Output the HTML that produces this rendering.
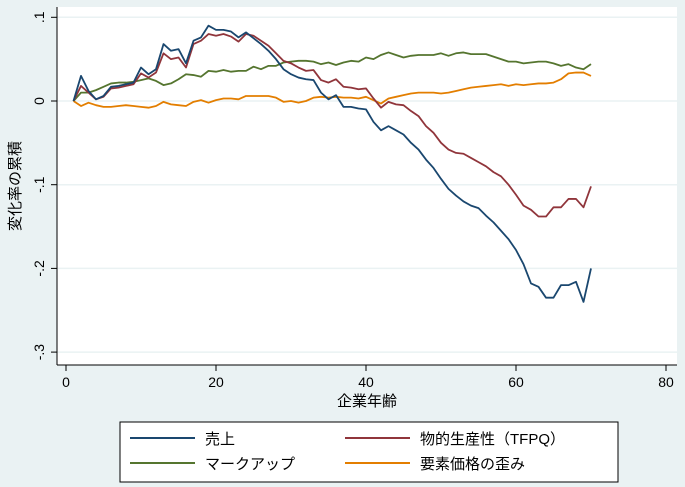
<!DOCTYPE html>
<html><head><meta charset="utf-8"><style>
body{margin:0;background:#eaf2f3;}
svg{display:block;font-family:"Liberation Sans","Noto Sans CJK JP",sans-serif;}
</style></head><body>
<svg width="685" height="487">
<rect x="0" y="0" width="685" height="487" fill="#eaf2f3"/>
<rect x="57" y="7" width="620" height="358" fill="#fff"/>
<g id="grid"></g><g id="axes"></g><g id="series"></g>
<text x="367" y="406" font-size="15" text-anchor="middle">企業年齢</text>
<text transform="translate(20,186) rotate(-90)" font-size="15" text-anchor="middle">変化率の累積</text>
<g>
<rect x="120" y="422" width="498" height="60" fill="#fff" stroke="#000" stroke-width="1"/>
<g><line x1="130" y1="438" x2="195" y2="438" stroke="#1a476f" stroke-width="2"/><text x="205" y="444" font-size="15">売上</text></g>
<g><line x1="345" y1="438" x2="410" y2="438" stroke="#90353b" stroke-width="2"/><text x="420" y="444" font-size="15">物的生産性（TFPQ）</text></g>
<g><line x1="130" y1="463" x2="195" y2="463" stroke="#55752f" stroke-width="2"/><text x="205" y="469" font-size="15">マークアップ</text></g>
<g><line x1="345" y1="463" x2="410" y2="463" stroke="#e37e00" stroke-width="2"/><text x="420" y="469" font-size="15">要素価格の歪み</text></g>
</g>
</svg>
<script>
const ages=Array.from({length:70},(_,i)=>i+1);
const sales=[0,0.03,0.012,0.002,0.006,0.017,0.018,0.02,0.022,0.04,0.032,0.038,0.068,0.06,0.062,0.045,0.072,0.076,0.09,0.085,0.085,0.083,0.076,0.082,0.075,0.068,0.06,0.05,0.038,0.032,0.028,0.026,0.025,0.01,0.002,0.007,-0.007,-0.007,-0.009,-0.01,-0.025,-0.035,-0.03,-0.035,-0.04,-0.05,-0.058,-0.07,-0.08,-0.093,-0.105,-0.113,-0.12,-0.125,-0.128,-0.137,-0.145,-0.155,-0.165,-0.178,-0.195,-0.218,-0.222,-0.235,-0.235,-0.22,-0.22,-0.216,-0.24,-0.2];
const tfpq=[0,0.018,0.01,0.002,0.005,0.015,0.016,0.018,0.02,0.033,0.028,0.034,0.057,0.05,0.052,0.04,0.068,0.072,0.08,0.078,0.08,0.077,0.071,0.08,0.078,0.072,0.066,0.057,0.048,0.045,0.04,0.036,0.037,0.025,0.022,0.026,0.017,0.016,0.014,0.015,0.003,-0.008,-0.001,-0.004,-0.005,-0.012,-0.018,-0.03,-0.038,-0.05,-0.058,-0.062,-0.063,-0.068,-0.073,-0.078,-0.085,-0.09,-0.1,-0.112,-0.125,-0.13,-0.138,-0.138,-0.127,-0.127,-0.117,-0.117,-0.127,-0.102];
const markup=[0,0.01,0.01,0.013,0.017,0.021,0.022,0.022,0.023,0.025,0.027,0.024,0.019,0.021,0.026,0.032,0.031,0.029,0.036,0.035,0.037,0.035,0.036,0.036,0.041,0.038,0.042,0.042,0.046,0.047,0.048,0.048,0.047,0.044,0.046,0.043,0.046,0.048,0.047,0.052,0.05,0.055,0.058,0.055,0.052,0.054,0.055,0.055,0.055,0.057,0.054,0.057,0.058,0.056,0.056,0.056,0.053,0.05,0.047,0.047,0.045,0.046,0.047,0.047,0.045,0.042,0.044,0.04,0.038,0.044];
const factor=[0,-0.006,-0.002,-0.005,-0.007,-0.007,-0.006,-0.005,-0.006,-0.007,-0.008,-0.006,-0.001,-0.004,-0.005,-0.006,-0.001,0.001,-0.002,0.001,0.003,0.003,0.002,0.006,0.006,0.006,0.006,0.004,-0.001,0,-0.002,0,0.004,0.005,0.004,0.005,0.004,0.004,0.003,0.005,0.001,-0.003,0.003,0.005,0.007,0.009,0.01,0.01,0.01,0.009,0.01,0.012,0.014,0.016,0.017,0.018,0.019,0.02,0.018,0.02,0.019,0.02,0.021,0.021,0.022,0.026,0.033,0.034,0.034,0.03];
const xTicks=[0,20,40,60,80];
const yTicks=[0.1,0,-0.1,-0.2,-0.3];
const yTickLabels=[".1","0","-.1","-.2","-.3"];
const NS="http://www.w3.org/2000/svg";
const xs=a=>66+7.5*a;
const ys=v=>101-837*v;
function mk(tag,attrs,parent){const e=document.createElementNS(NS,tag);for(const k in attrs)e.setAttribute(k,attrs[k]);parent.appendChild(e);return e;}
const grid=document.getElementById('grid'),axes=document.getElementById('axes'),ser=document.getElementById('series');
mk('line',{x1:57,y1:7,x2:57,y2:365,stroke:'#000'},axes);
mk('line',{x1:57,y1:365,x2:677,y2:365,stroke:'#000'},axes);
yTicks.forEach((v,i)=>{
  const g=mk('line',{x1:57,x2:677,y1:ys(v),y2:ys(v),stroke:'#eaf2f3','stroke-width':1.5},grid);
  
  
  mk('line',{x1:51,x2:57,y1:ys(v),y2:ys(v),stroke:'#000'},axes);
  const t=mk('text',{transform:`translate(44,${ys(v)}) rotate(-90)`,'font-size':14,'text-anchor':'middle'},axes);
  t.textContent=yTickLabels[i];
  
  
});
xTicks.forEach(v=>{
  mk('line',{x1:xs(v),x2:xs(v),y1:365,y2:371,stroke:'#000'},axes);
  const t=mk('text',{x:xs(v),y:387,'font-size':14,'text-anchor':'middle'},axes);
  t.textContent=v;
  
  
});
[[factor,'#e37e00','factor-price-line'],[markup,'#55752f','markup-line'],[tfpq,'#90353b','tfpq-line'],[sales,'#1a476f','sales-line']].forEach(([d,c,n])=>{
  const p=mk('polyline',{points:d.map((v,i)=>xs(ages[i])+','+ys(v)).join(' '),fill:'none',stroke:c,'stroke-width':1.8,'stroke-linejoin':'round'},ser);
  
  
});
</script>
</body></html>
